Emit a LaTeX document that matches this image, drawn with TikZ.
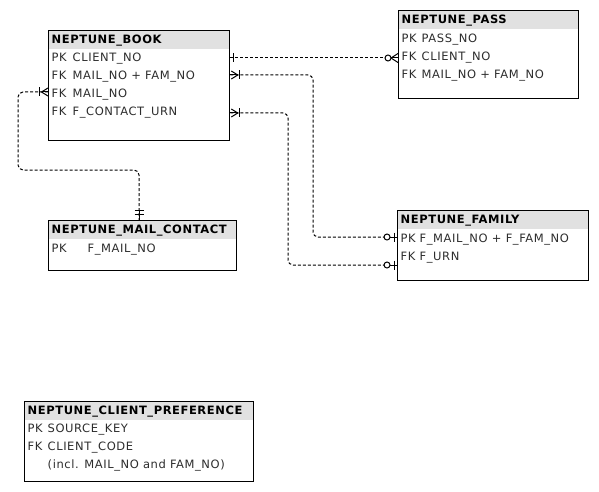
\documentclass[tikz,border=0pt]{standalone}
\usepackage{fontspec}
\setmainfont{DejaVu Sans}[LetterSpace=5]
\usetikzlibrary{calc}
\definecolor{hdrgray}{RGB}{225,225,225}
\definecolor{txtgray}{RGB}{45,45,45}
\tikzset{
  x=1pt, y=-1pt,
  tbl/.style={draw=black, line width=1.3pt, fill=white, anchor=north west, inner sep=0pt,
    path picture={\fill[hdrgray] (path picture bounding box.north west) rectangle ([yshift=-18.5pt]path picture bounding box.north east);}},
  hdrtxt/.style={anchor=base west, inner sep=0pt, font=\fontsize{11.5}{13}\selectfont\bfseries, text=black},
  rowtxt/.style={anchor=base west, inner sep=0pt, font=\fontsize{11.5}{13}\selectfont, text=txtgray},
  conn/.style={draw=black, line width=1pt, dash pattern=on 3pt off 2pt},
  mk/.style={draw=black, line width=1pt},
}
\newcommand{\keycol}[2]{\makebox[#1][l]{#2}}
\begin{document}
\begin{tikzpicture}
\fill[white] (0,0) rectangle (599,492);
\useasboundingbox (0,0) rectangle (599,492);

% tables
\node[tbl, minimum width=181pt, minimum height=110pt] (book) at (48,30) {};
\node[hdrtxt] (bookH) at ($(book.north west)+(3.5,13.5)$) {NEPTUNE\_BOOK};
\node[rowtxt] (bookR1) at ($(book.north west)+(3.5,32)$) {\keycol{21pt}{PK}CLIENT\_NO};
\node[rowtxt] (bookR2) at ($(book.north west)+(3.5,50)$) {\keycol{21pt}{FK}MAIL\_NO + FAM\_NO};
\node[rowtxt] (bookR3) at ($(book.north west)+(3.5,68)$) {\keycol{21pt}{FK}MAIL\_NO};
\node[rowtxt] (bookR4) at ($(book.north west)+(3.5,86)$) {\keycol{21pt}{FK}F\_CONTACT\_URN};

\node[tbl, minimum width=180pt, minimum height=88pt] (pass) at (398,10) {};
\node[hdrtxt] (passH) at ($(pass.north west)+(3.5,13.5)$) {NEPTUNE\_PASS};
\node[rowtxt] (passR1) at ($(pass.north west)+(3.5,32.5)$) {\keycol{20pt}{PK}PASS\_NO};
\node[rowtxt] (passR2) at ($(pass.north west)+(3.5,50.5)$) {\keycol{20pt}{FK}CLIENT\_NO};
\node[rowtxt] (passR3) at ($(pass.north west)+(3.5,68.5)$) {\keycol{20pt}{FK}MAIL\_NO + FAM\_NO};

\node[tbl, minimum width=188pt, minimum height=50pt] (mail) at (48,220) {};
\node[hdrtxt] (mailH) at ($(mail.north west)+(3.5,13.5)$) {NEPTUNE\_MAIL\_CONTACT};
\node[rowtxt] (mailR1) at ($(mail.north west)+(3.5,32)$) {\keycol{36pt}{PK}F\_MAIL\_NO};

\node[tbl, minimum width=191pt, minimum height=70pt] (family) at (397,210) {};
\node[hdrtxt] (famH) at ($(family.north west)+(3.5,13.5)$) {NEPTUNE\_FAMILY};
\node[rowtxt] (famR1) at ($(family.north west)+(3.5,32)$) {\keycol{19pt}{PK}F\_MAIL\_NO + F\_FAM\_NO};
\node[rowtxt] (famR2) at ($(family.north west)+(3.5,50)$) {\keycol{19pt}{FK}F\_URN};

\node[tbl, minimum width=229pt, minimum height=80pt] (pref) at (24,401) {};
\node[hdrtxt] (prefH) at ($(pref.north west)+(3.5,13.5)$) {NEPTUNE\_CLIENT\_PREFERENCE};
\node[rowtxt] (prefR1) at ($(pref.north west)+(3.5,31.5)$) {\keycol{20pt}{PK}SOURCE\_KEY};
\node[rowtxt] (prefR2) at ($(pref.north west)+(3.5,49.5)$) {\keycol{20pt}{FK}CLIENT\_CODE};
\node[rowtxt] (prefR3) at ($(pref.north west)+(3.5,67.5)$) {\keycol{20pt}{}(incl. MAIL\_NO and FAM\_NO)};

% connector 1: BOOK -> PASS
\coordinate (c1s) at ($(book.north east)+(0,28)$);
\coordinate (c1e) at (c1s -| pass.west);
\draw[conn] (c1s) -- ($(c1e)+(-10,0)$);
\draw[mk] ($(c1s)+(3,-4.5)$) -- ($(c1s)+(3,4.5)$);
\draw[mk] ($(c1e)+(0,-4.5)$) -- ($(c1e)+(-7,0)$) -- ($(c1e)+(0,4.5)$);
\draw[mk] ($(c1e)+(-7,0)$) -- (c1e);
\draw[mk, fill=white] ($(c1e)+(-10,0)$) circle (3pt);

% connector 2: BOOK -> FAMILY (PK)
\coordinate (c2s) at ($(book.north east)+(0,45)$);
\coordinate (c2e) at ($(family.north west)+(0,27)$);
\draw[conn, rounded corners=5pt] (c2s) -| ($(c2e)+(-84,0)$) -- ($(c2e)+(-7,0)$);
\draw[mk] ($(c2s)+(1,-4)$) -- ($(c2s)+(7.5,0)$) -- ($(c2s)+(1,4)$);
\draw[mk] (c2s) -- ($(c2s)+(7.5,0)$);
\draw[mk] ($(c2s)+(9,-4.5)$) -- ($(c2s)+(9,4.5)$);
\draw[mk] ($(c2e)+(-3,-4.5)$) -- ($(c2e)+(-3,4.5)$);
\draw[mk] ($(c2e)+(-7,0)$) -- (c2e);
\draw[mk, fill=white] ($(c2e)+(-10,0)$) circle (3pt);

% connector 3: BOOK -> FAMILY (FK)
\coordinate (c3s) at ($(book.north east)+(0,83)$);
\coordinate (c3e) at ($(family.north west)+(0,55)$);
\draw[conn, rounded corners=5pt] (c3s) -| ($(c3e)+(-109,0)$) -- ($(c3e)+(-7,0)$);
\draw[mk] ($(c3s)+(1,-4)$) -- ($(c3s)+(7.5,0)$) -- ($(c3s)+(1,4)$);
\draw[mk] (c3s) -- ($(c3s)+(7.5,0)$);
\draw[mk] ($(c3s)+(9,-4.5)$) -- ($(c3s)+(9,4.5)$);
\draw[mk] ($(c3e)+(-3,-4.5)$) -- ($(c3e)+(-3,4.5)$);
\draw[mk] ($(c3e)+(-7,0)$) -- (c3e);
\draw[mk, fill=white] ($(c3e)+(-10,0)$) circle (3pt);

% connector 4: BOOK -> MAIL_CONTACT
\coordinate (c4s) at ($(book.north west)+(0,62)$);
\coordinate (c4e) at ($(mail.north west)+(91,0)$);
\draw[conn, rounded corners=5pt] (c4s) -| ($(c4s)+(-30,78)$) -| (c4e);
\draw[mk] ($(c4s)+(0,-4)$) -- ($(c4s)+(-6.5,0)$) -- ($(c4s)+(0,4)$);
\draw[mk] (c4s) -- ($(c4s)+(-6.5,0)$);
\draw[mk] ($(c4s)+(-8.5,-4.5)$) -- ($(c4s)+(-8.5,4.5)$);
\draw[mk] ($(c4e)+(-4.5,-10)$) -- ($(c4e)+(4.5,-10)$);
\draw[mk] ($(c4e)+(-4.5,-6)$) -- ($(c4e)+(4.5,-6)$);
\draw[mk] ($(c4e)+(0,-10)$) -- (c4e);
\end{tikzpicture}
\end{document}
